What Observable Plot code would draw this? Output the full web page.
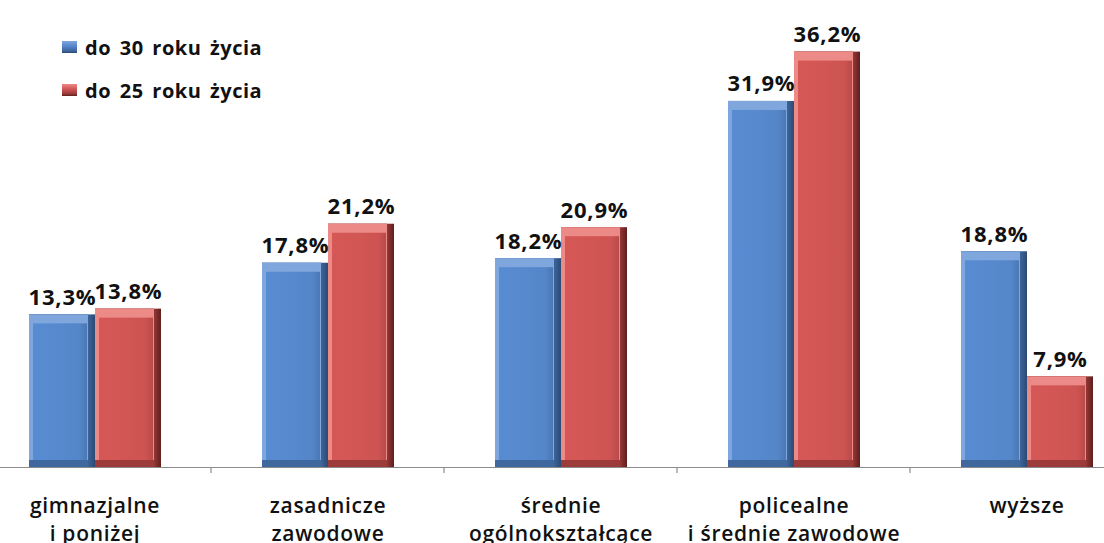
<!DOCTYPE html>
<html>
<head>
<meta charset="utf-8">
<script src="https://cdn.jsdelivr.net/npm/d3@7"></script>
<script src="https://cdn.jsdelivr.net/npm/@observablehq/plot@0.6"></script>
<style>
  html, body { margin: 0; padding: 0; background: #fff; }
  #wrap { position: relative; width: 1104px; height: 543px; overflow: hidden; font-family: "Open Sans", sans-serif; }
  #legend { position: absolute; left: 62px; top: 35px; }
  .li { display: flex; align-items: center; height: 24px; margin-bottom: 19px; font-weight: bold; font-size: 20px; letter-spacing: 0.5px; word-spacing: 3px; color: #111; }
  .sw { width: 15px; height: 12px; margin-right: 8px; box-sizing: border-box; }
</style>
</head>
<body>
<div id="wrap"><div id="legend"></div></div>
<script>
// ---- data ----
const categories = ["gimnazjalne", "zasadnicze", "średnie", "policealne", "wyższe"];
const categoryLabels = [
  "gimnazjalne\ni poniżej",
  "zasadnicze\nzawodowe",
  "średnie\nogólnokształcące",
  "policealne\ni średnie zawodowe",
  "wyższe"
];
const series = ["do 30 roku życia", "do 25 roku życia"];
const under30 = [13.3, 17.8, 18.2, 31.9, 18.8];
const under25 = [13.8, 21.2, 20.9, 36.2, 7.9];

// ---- styles ----
const shades = {
  "do 30 roku życia": {dark: "#2c4a74", mid: "#3f689f", light: "#7fa7dd", face: "#5486c9"},
  "do 25 roku życia": {dark: "#5e1f1d", mid: "#9c3b39", light: "#ec8a87", face: "#cd5452"}
};

const rows = [];
categories.forEach((c, i) => {
  rows.push({cat: c, series: series[0], value: under30[i]});
  rows.push({cat: c, series: series[1], value: under25[i]});
});
const labelOf = new Map(categories.map((c, i) => [c, categoryLabels[i]]));
const fmt = v => v.toFixed(1).replace(".", ",") + "%";

const bevelMarks = series.flatMap((s, i) => {
  const d = rows.filter(r => r.series === s);
  const sh = shades[s];
  const base = {fx: "cat", x: "series", y: "value"};
  return [
    Plot.barY(d, {...base, fill: `url(#edge-${i})`}),
    Plot.barY(d, {...base, fill: sh.mid, insetRight: 7}),
    Plot.barY(d, {...base, fill: sh.light, insetRight: 7, insetBottom: 7}),
    Plot.barY(d, {...base, fill: `url(#face-${i})`, insetTop: 9, insetLeft: 4, insetRight: 8, insetBottom: 7})
  ];
});

const defs = () => {
  const g = d3.create("svg:defs");
  series.forEach((s, i) => {
    const sh = shades[s];
    const lg = g.append("linearGradient").attr("id", `face-${i}`).attr("x1", 0).attr("x2", 1).attr("y1", 0).attr("y2", 0);
    lg.append("stop").attr("offset", "0%").attr("stop-color", d3.color(sh.face).brighter(0.12));
    lg.append("stop").attr("offset", "85%").attr("stop-color", sh.face);
    lg.append("stop").attr("offset", "100%").attr("stop-color", d3.color(sh.face).darker(0.3));
    const eg = g.append("linearGradient").attr("id", `edge-${i}`).attr("x1", 0).attr("x2", 1).attr("y1", 0).attr("y2", 0);
    eg.append("stop").attr("offset", "88%").attr("stop-color", sh.mid);
    eg.append("stop").attr("offset", "100%").attr("stop-color", sh.dark);
  });
  return g.node();
};

const chart = Plot.plot({
  width: 1104,
  height: 543,
  marginTop: 8,
  marginBottom: 76,
  marginLeft: -23,
  marginRight: -39,
  style: {fontFamily: "'Open Sans', sans-serif", color: "#111", background: "transparent"},
  fx: {domain: categories, padding: 0, label: null},
  x: {domain: series, paddingInner: 0, paddingOuter: 0.75, axis: null},
  y: {domain: [0, 40], axis: null},
  marks: [
    defs,
    Plot.ruleY([0], {stroke: "#8c8c8c", strokeWidth: 1.2}),
    ...bevelMarks,
    Plot.text(rows, {
      fx: "cat", x: "series", y: "value", text: d => fmt(d.value),
      dy: -10, lineAnchor: "bottom", fontSize: 22, fontWeight: "bold", fill: "#111"
    }),
    Plot.axisFx({
      anchor: "bottom", tickSize: 0, tickPadding: 26, label: null,
      fontSize: 21, fontWeight: 600, lineHeight: 1.33, fill: "#111",
      tickFormat: c => labelOf.get(c)
    })
  ]
});

const svg = d3.select(chart);
// wider tracking, as in the reference
svg.selectAll("text").each(function() {
  d3.select(this).attr("letter-spacing", /%$/.test(this.textContent) ? "0.8px" : "0.7px");
});

// small tick marks at category boundaries, from the fx scale
const fxScale = chart.scale("fx");
const y0 = chart.scale("y").apply(0);
categories.slice(1).forEach(c => {
  const bx = fxScale.apply(c);
  svg.append("line").attr("x1", bx).attr("x2", bx).attr("y1", y0).attr("y2", y0 + 6)
    .attr("stroke", "#8c8c8c").attr("stroke-width", 1.2);
});

document.getElementById("wrap").prepend(chart);

// legend
const legend = d3.select("#legend");
series.forEach(s => {
  const sh = shades[s];
  const row = legend.append("div").attr("class", "li");
  row.append("div").attr("class", "sw")
    .style("background", `linear-gradient(180deg, ${sh.light} 0%, ${sh.face} 45%, ${sh.mid} 80%, ${sh.dark} 100%)`);
  row.append("span").text(s);
});
</script>
</body>
</html>
